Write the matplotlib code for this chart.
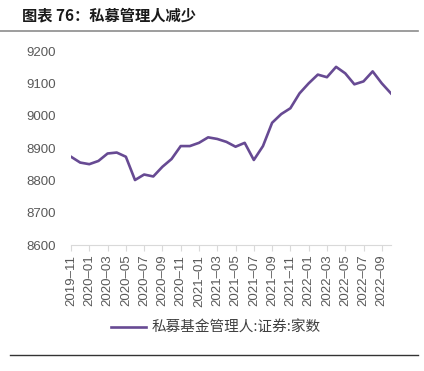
import matplotlib
matplotlib.use("Agg")
import matplotlib.pyplot as plt
import pandas as pd

months = pd.period_range("2019-11", "2022-10", freq="M").strftime("%Y-%m").tolist()
values = [8873, 8855, 8850, 8860, 8883, 8886, 8873, 8801, 8818, 8812,
          8842, 8866, 8906, 8906, 8916, 8933, 8928, 8919, 8904, 8916,
          8863, 8906, 8978, 9005, 9023, 9069, 9100, 9127, 9119, 9151,
          9131, 9097, 9106, 9137, 9100, 9069]
yticks = [8600, 8700, 8800, 8900, 9000, 9100, 9200]
series_name = "私募基金管理人:证券:家数"
title = "图表 76：私募管理人减少"

cjk = ["Noto Sans CJK SC", "DejaVu Sans"]
num_font = ["Liberation Sans", "DejaVu Sans"]

fig = plt.figure(figsize=(4.24, 3.71), dpi=100)
ax = fig.add_axes([0.1675, 0.3396, 0.922 - 0.1675, 0.8625 - 0.3396])

x = list(range(len(months)))
ax.plot(x, values, color="#674A93", lw=1.9, label=series_name, solid_joinstyle="round")
ax.set_xlim(0, len(months) - 1)
ax.set_ylim(8600, 9200)
ax.set_yticks(yticks)
ax.set_yticklabels([str(v) for v in yticks], family=num_font, fontsize=9.5, color="#595959")
ax.set_xticks(x[::2])
ax.set_xticklabels([m.replace("-", "–") for m in months[::2]], rotation=90,
                   family=num_font, fontsize=9.5, color="#595959")
for s in ["top", "right", "left"]:
    ax.spines[s].set_visible(False)
ax.spines["bottom"].set_color("#d9d9d9")
ax.tick_params(axis="y", length=0, pad=11)
ax.tick_params(axis="x", length=4, color="#d9d9d9", pad=3)

leg = fig.legend(loc="center", bbox_to_anchor=(216 / 424, 1 - 328 / 371), frameon=False,
                 prop={"family": cjk, "size": 10.5}, handlelength=2.4, handletextpad=0.4)
for t in leg.get_texts():
    t.set_color("#404040")

fig.text(22 / 424, 1 - 15 / 371, title, family=cjk, fontsize=11, fontweight="bold",
         color="#1a1a1a", va="center", ha="left")
fig.add_artist(plt.Line2D([0, 418 / 424], [1 - 31 / 371] * 2, color="#8c8c8c", lw=1.2))
fig.add_artist(plt.Line2D([10 / 424, 418 / 424], [1 - 355 / 371] * 2, color="#333333", lw=1.0))

fig.savefig("out.png", dpi=100)
